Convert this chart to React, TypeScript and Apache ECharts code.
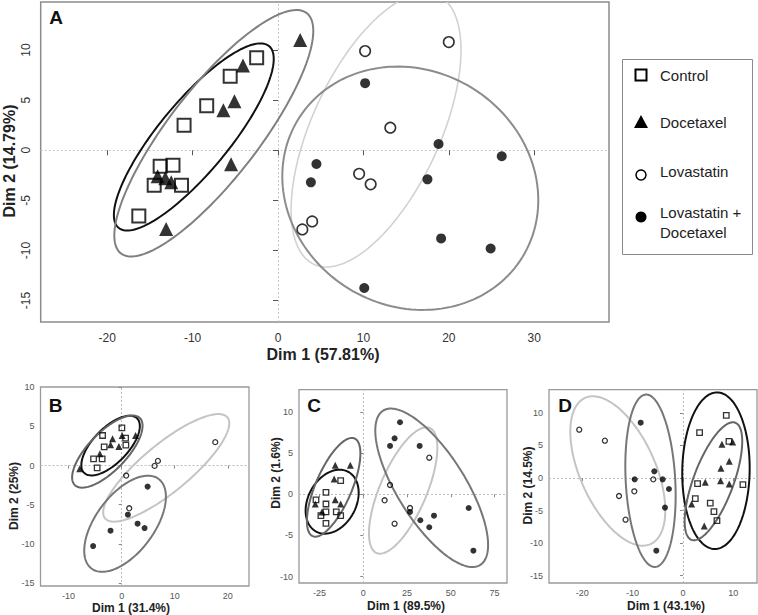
import React, { useEffect, useRef } from "react";
import * as echarts from "echarts";

// ---------- groups ----------
const groups = ["Control", "Docetaxel", "Lovastatin", "Lovastatin + Docetaxel"];

// ---------- Panel A ----------
const aControl = [[-2.5, 9.24], [-5.6, 7.4], [-8.35, 4.45], [-11.0, 2.5], [-13.8, -1.6], [-12.3, -1.5], [-14.5, -3.5], [-11.3, -3.5], [-16.3, -6.55]];
const aDocetaxel = [[2.6, 11.0], [-4.1, 8.45], [-5.1, 4.9], [-6.4, 4.0], [-5.5, -1.4], [-14.1, -2.6], [-13.2, -2.8], [-12.5, -3.2], [-13.1, -7.85]];
const aLovastatin = [[10.2, 9.9], [20.0, 10.8], [13.15, 2.25], [9.5, -2.35], [10.85, -3.4], [4.0, -7.1], [2.85, -7.9]];
const aCombo = [[10.2, 6.7], [18.8, 0.63], [26.2, -0.6], [4.5, -1.37], [3.85, -3.2], [17.5, -2.9], [19.1, -8.8], [24.9, -9.8], [10.1, -13.75]];
// ellipse: [cx, cy, ux, uy, vx, vy] (centre and two conjugate half-axes, data units)
const aEllipses = [
  [-9.86, 1.33, 8.81, 9.07, -3.16, 2.23],
  [-7.52, 1.7, 10.88, 11.99, -4.17, 2.75],
  [11.48, 2.03, 7.27, 13.41, -6.79, 2.68],
  [15.49, -3.79, 13.14, -6.86, 7.21, 10.02],
];
const aXTicks = [-20, -10, 0, 10, 20, 30];
const aYTicks = [-15, -10, -5, 0, 5, 10];

// ---------- Panel B ----------
const bControl = [[0.04, 4.83], [-3.6, 3.85], [0.74, 3.51], [-3.3, 2.4], [0.79, 2.62], [-5.3, 0.86], [-3.68, 0.86], [-4.62, -0.29]];
const bDocetaxel = [[2.62, 3.85], [0.09, 3.85], [-1.72, 3.42], [-2.09, 2.65], [-0.53, 2.44], [-4.11, 1.5], [-7.9, -0.42]];
const bLovastatin = [[17.64, 3.0], [6.83, 0.6], [6.2, -0.04], [0.85, -1.28], [1.42, -5.46]];
const bCombo = [[4.89, -2.69], [1.17, -6.28], [3.0, -7.43], [4.32, -7.99], [-2.1, -8.33], [-5.38, -10.29]];
const bEllipses = [
  [-2.09, 2.56, 4.98, 3.49, -2.36, 1.55],
  [-2.7, 1.79, 6.12, 4.29, -2.57, 1.7],
  [8.4, -0.29, 11.53, 6.46, -2.87, 2.36],
  [0.64, -7.44, 6.33, 5.73, -4.38, 2.23],
];
const bXTicks = [-10, 0, 10, 20];
const bYTicks = [-15, -10, -5, 0, 5, 10];

// ---------- Panel C ----------
const cControl = [[-12.9, 1.65], [-21.3, 0.24], [-27.0, -0.69], [-21.3, -1.18], [-21.3, -2.15], [-15.4, -2.15], [-12.9, -2.6], [-24.2, -2.6], [-21.3, -3.53]];
const cDocetaxel = [[-16.0, 3.53], [-7.4, 3.53], [-16.6, 1.86], [-16.0, -0.65], [-12.9, -1.18], [-27.4, -1.18], [-23.6, -2.15]];
const cLovastatin = [[37.7, 4.45], [15.3, 1.13], [12.2, -0.73], [26.7, -1.67], [17.9, -3.58]];
const cCombo = [[21.0, 8.76], [17.9, 6.81], [15.3, 5.88], [32.2, 5.88], [60.2, -1.67], [26.7, -2.15], [40.4, -2.6], [32.6, -3.16], [37.7, -4.01], [62.9, -6.86]];
const cEllipses = [
  [-17.77, -0.9, 9.1, 3.64, -12.11, 1.37],
  [-16.91, 0.85, 11.95, 5.94, -9.51, 0.87],
  [22.8, 0.46, 15.16, 7.6, -12.31, 1.11],
  [39.09, 0.79, 27.74, -9.38, 16.39, 2.2],
];
const cXTicks = [-25, 0, 25, 50, 75];
const cYTicks = [-10, -5, 0, 5, 10];

// ---------- Panel D ----------
const dControl = [[8.6, 9.64], [3.3, 6.97], [9.13, 5.64], [2.9, -0.87], [11.9, -1.03], [2.45, -3.18], [5.42, -3.85], [6.15, -5.18], [6.75, -6.56]];
const dDocetaxel = [[7.74, 5.18], [9.86, 5.54], [9.19, 2.56], [7.54, 1.49], [4.43, -0.67], [7.47, -0.41], [9.19, -0.92], [1.72, -4.0], [4.23, -7.38]];
const dLovastatin = [[-20.6, 7.43], [-15.5, 5.74], [-5.89, -0.21], [-9.66, -2.05], [-12.7, -2.77], [-11.4, -6.41]];
const dCombo = [[-8.4, 8.51], [-5.69, 1.03], [-9.58, -0.21], [-4.03, -0.21], [-2.78, -1.69], [-3.57, -4.56], [-5.29, -11.18]];
const dEllipses = [
  [6.55, 1.12, 0.27, 12.04, -6.69, 0.09],
  [6.05, -0.51, 4.34, 9.01, -3.72, 1.08],
  [-12.94, 1.08, 6.51, -11.24, 6.82, 2.38],
  [-6.45, -0.43, 0.93, -13.26, 4.91, 0.21],
];
const dXTicks = [-20, -10, 0, 10];
const dYTicks = [-15, -10, -5, 0, 5, 10];

const FONT = "Liberation Sans, Arial, sans-serif";

type Panel = {
  sets: number[][][];
  ells: number[][];
  big: boolean;
  xr: [number, number];
  yr: [number, number];
  xt: number[];
  yt: number[];
  grid: { left: number; top: number; width: number; height: number };
};

const panels: Panel[] = [
  { sets: [aControl, aDocetaxel, aLovastatin, aCombo], ells: aEllipses, big: true, xr: [-27.79, 38.76], yr: [-17.14, 14.8], xt: aXTicks, yt: aYTicks, grid: { left: 40.7, top: 2, width: 568.3, height: 320 } },
  { sets: [bControl, bDocetaxel, bLovastatin, bCombo], ells: bEllipses, big: false, xr: [-15.3, 24.0], yr: [-15.4, 10.05], xt: bXTicks, yt: bYTicks, grid: { left: 40.5, top: 387, width: 208.5, height: 199 } },
  { sets: [cControl, cDocetaxel, cLovastatin, cCombo], ells: cEllipses, big: false, xr: [-36.7, 82.1], yr: [-10.79, 12.72], xt: cXTicks, yt: cYTicks, grid: { left: 299, top: 389.7, width: 208, height: 193.3 } },
  { sets: [dControl, dDocetaxel, dLovastatin, dCombo], ells: dEllipses, big: false, xr: [-26.6, 14.7], yr: [-16.15, 13.58], xt: dXTicks, yt: dYTicks, grid: { left: 549, top: 389.7, width: 208, height: 193.3 } },
];

function buildOption() {
  const grid: any[] = [];
  const xAxis: any[] = [];
  const yAxis: any[] = [];
  const series: any[] = [];

  panels.forEach((p, i) => {
    grid.push({ ...p.grid, show: true, borderColor: p.big ? "#8c8c8c" : "#9a9a9a", borderWidth: p.big ? 1.5 : 1.3, backgroundColor: "transparent", containLabel: false });
    const tickCol = p.big ? "#555" : "#888";
    const labCol = p.big ? "#333" : "#555";
    xAxis.push({
      type: "value", gridIndex: i, min: p.xr[0], max: p.xr[1],
      axisLine: { show: false },
      splitLine: { show: false },
      axisTick: { show: true, customValues: p.xt, length: p.big ? 5 : 3, lineStyle: { color: tickCol, width: 1 } },
      axisLabel: { customValues: p.xt, fontFamily: FONT, fontSize: p.big ? 12 : 9, color: labCol, margin: p.big ? 10 : 5 },
    });
    yAxis.push({
      type: "value", gridIndex: i, min: p.yr[0], max: p.yr[1],
      axisLine: { show: false },
      splitLine: { show: false },
      axisTick: { show: true, customValues: p.yt, length: p.big ? 5 : 3, lineStyle: { color: tickCol, width: 1 } },
      axisLabel: { customValues: p.yt, fontFamily: FONT, fontSize: p.big ? 12 : 9, color: labCol, margin: p.big ? 9 : 6, rotate: p.big ? 90 : 0 },
    });

    const ellCols = p.big ? ["#111", "#808080", "#d2d2d2", "#8c8c8c"] : ["#111", "#666", "#c4c4c4", "#777"];
    const ellW = p.big ? [2, 2, 1.6, 2] : [2, 2, 2, 2];
    series.push({
      type: "custom", xAxisIndex: i, yAxisIndex: i, data: p.ells, encode: { x: 0, y: 1 }, silent: true, z: 1,
      renderItem: (params: any, api: any) => {
        const cx = api.value(0), cy = api.value(1), ux = api.value(2), uy = api.value(3), vx = api.value(4), vy = api.value(5);
        const pts: number[][] = [];
        const n = 160;
        for (let k = 0; k < n; k++) {
          const t = (k / n) * Math.PI * 2;
          pts.push(api.coord([cx + ux * Math.cos(t) + vx * Math.sin(t), cy + uy * Math.cos(t) + vy * Math.sin(t)]));
        }
        const cs = params.coordSys;
        return {
          type: "polygon",
          shape: { points: pts },
          style: { fill: "none", stroke: ellCols[params.dataIndex], lineWidth: ellW[params.dataIndex] },
          clipPath: { type: "rect", shape: { x: cs.x, y: cs.y, width: cs.width, height: cs.height } },
        };
      },
    });

    const s = p.big
      ? { sq: 13, tri: 14, oc: 10.5, fc: 10, bw: 2, obw: 1.6 }
      : { sq: 5.5, tri: 7, oc: 5, fc: 6, bw: 1.3, obw: 1.3 };
    const styles = [
      { symbol: "rect", symbolSize: s.sq, itemStyle: { color: "rgba(0,0,0,0)", borderColor: "#000", borderWidth: s.bw } },
      { symbol: "triangle", symbolSize: s.tri, itemStyle: { color: "#000", borderWidth: 0 } },
      { symbol: "circle", symbolSize: s.oc, itemStyle: { color: "rgba(0,0,0,0)", borderColor: "#000", borderWidth: s.obw } },
      { symbol: "circle", symbolSize: s.fc, itemStyle: { color: "#000", borderWidth: 0 } },
    ];
    p.sets.forEach((d, g) => {
      const ser: any = {
        type: "scatter", name: groups[g], xAxisIndex: i, yAxisIndex: i, data: d, z: 3,
        ...styles[g],
      };
      if (g === 0) {
        ser.markLine = {
          silent: true, symbol: "none", label: { show: false }, animation: false, z: 0,
          lineStyle: { color: p.big ? "#c8c8c8" : "#bdbdbd", type: [2, 2], width: 1 },
          data: [{ xAxis: 0 }, { yAxis: 0 }],
        };
      }
      series.push(ser);
    });
  });

  const txt = (x: number, y: number, text: string, size: number, bold: boolean, rot = 0, color = "#222", align = "center") => ({
    type: "text", x, y, rotation: rot, silent: true,
    style: { text, fontFamily: FONT, fontSize: size, fontWeight: bold ? "bold" : "normal", fill: color, align, verticalAlign: "middle" },
  });

  const graphic: any[] = [
    // panel letters
    txt(56, 17, "A", 19, true, 0, "#111"),
    txt(55.5, 405, "B", 19, true, 0, "#111"),
    txt(314, 405, "C", 19, true, 0, "#111"),
    txt(565, 405, "D", 19, true, 0, "#111"),
    // axis titles
    txt(323, 354, "Dim 1 (57.81%)", 16, true),
    txt(9, 161, "Dim 2 (14.79%)", 16, true, Math.PI / 2),
    txt(131, 607.5, "Dim 1 (31.4%)", 12, true),
    txt(14, 496, "Dim 2 (25%)", 12, true, Math.PI / 2),
    txt(406, 606, "Dim 1 (89.5%)", 12, true),
    txt(276, 473, "Dim 2 (1.6%)", 12, true, Math.PI / 2),
    txt(666, 606, "Dim 1 (43.1%)", 12, true),
    txt(528, 485.5, "Dim 2 (14.5%)", 12, true, Math.PI / 2),
    // legend
    { type: "rect", silent: true, shape: { x: 622.5, y: 59.5, width: 130, height: 195 }, style: { fill: "none", stroke: "#8a8a8a", lineWidth: 1 } },
    { type: "rect", silent: true, shape: { x: 635.5, y: 69.5, width: 11, height: 11 }, style: { fill: "none", stroke: "#000", lineWidth: 2 } },
    { type: "polygon", silent: true, shape: { points: [[641, 115], [648, 128], [634, 128]] }, style: { fill: "#000" } },
    { type: "circle", silent: true, shape: { cx: 641, cy: 175, r: 5 }, style: { fill: "none", stroke: "#000", lineWidth: 1.5 } },
    { type: "circle", silent: true, shape: { cx: 641, cy: 217, r: 5.5 }, style: { fill: "#000" } },
    txt(660, 75, groups[0], 15, false, 0, "#222", "left"),
    txt(660, 122, groups[1], 15, false, 0, "#222", "left"),
    txt(660, 171, groups[2], 15, false, 0, "#222", "left"),
    { type: "text", x: 660, y: 222, silent: true, style: { text: groups[3].replace(" + ", " +\n"), fontFamily: FONT, fontSize: 15, fill: "#222", align: "left", verticalAlign: "middle", lineHeight: 20 } },
  ];

  return { animation: false, backgroundColor: "#fff", grid, xAxis, yAxis, series, graphic };
}

export default function App() {
  const ref = useRef<HTMLDivElement>(null);
  useEffect(() => {
    if (!ref.current) return;
    const chart = echarts.init(ref.current, undefined, { renderer: "svg" });
    chart.setOption(buildOption() as any);
    return () => chart.dispose();
  }, []);
  return <div ref={ref} style={{ position: "absolute", left: 0, top: 0, width: 758, height: 615, background: "#fff" }} />;
}
